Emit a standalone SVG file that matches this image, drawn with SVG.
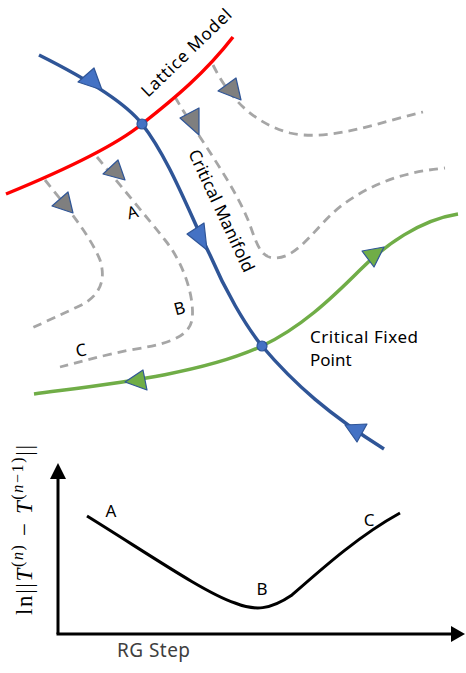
<svg xmlns="http://www.w3.org/2000/svg" width="466" height="673" viewBox="0 0 466 673">
<style>
.txt{font-family:"Noto Sans","Liberation Sans",sans-serif;fill:#000}
.dash{fill:none;stroke:#A6A6A6;stroke-width:2.8;stroke-dasharray:9 6}
.blue{fill:none;stroke:#2F5597;stroke-width:3.5}
.red{fill:none;stroke:#FF0000;stroke-width:3.5}
.green{fill:none;stroke:#70AD47;stroke-width:3.5}
.ab{fill:#4472C4;stroke:#2F5597;stroke-width:1.2;stroke-linejoin:round}
.ag{fill:#70AD47;stroke:#2F5597;stroke-width:1.2;stroke-linejoin:round}
.ay{fill:#7F7F7F;stroke:#2F5597;stroke-width:1.2;stroke-linejoin:round}
.dot{fill:#4472C4;stroke:#2F5597;stroke-width:1.2}
.ax{fill:none;stroke:#000;stroke-width:3}
</style>
<rect width="466" height="673" fill="#fff"/>
<g id="connectors">
  <g id="flow-lines">
    <path class="dash" d="M213,65 C228,95 250,122 290,133 C330,142 380,122 423,112"/>
    <path class="dash" d="M175,97 C200,140 235,185 250,225 C258,248 262,258 275,258 C300,258 318,222 345,203 C375,182 405,172 445,168"/>
    <path class="dash" d="M97,157 C120,185 145,215 165,240 C185,265 195,300 192,320 C188,340 160,345 130,350 C100,356 80,362 60,367"/>
    <path class="dash" d="M45,180 C65,205 90,235 100,260 C108,285 95,300 75,308 C60,315 45,322 32,328"/>
    <polygon class="ay" points="218,91 236,78 241,100"/>
    <polygon class="ay" points="180,118 199,108 199,135"/>
    <polygon class="ay" points="103,174 118,160 125,180"/>
    <polygon class="ay" points="52,206 68,192 73,213"/>
  </g>
  <path id="lattice-line" class="red" d="M6,194 C50,176 110,150 142,124 C175,98 205,73 233,37"/>
  <path id="relevant-line" class="green" d="M34,394 C100,385 200,375 262,346 C300,328 330,300 360,270 C385,245 420,220 458,214"/>
  <path id="manifold-line" class="blue" d="M39,55 C85,78 125,102 142,124 C170,160 190,215 210,255 C225,290 245,325 262,346 C295,385 330,415 384,449"/>
  <polygon class="ab" points="78,82 94,68 102,90"/>
  <polygon class="ab" points="187,234 204,223 207,250"/>
  <polygon class="ab" points="345,425 367,424 357,442"/>
  <polygon class="ag" points="125,382 143,370 147,390"/>
  <polygon class="ag" points="384,247 362,251 374,267"/>
</g>
<g id="lattice-model">
  <text class="txt" font-size="17" textLength="118" transform="translate(148,98) rotate(-44)">Lattice Model</text>
</g>
<g id="critical-manifold">
  <text class="txt" font-size="17" textLength="133" transform="translate(188,153) rotate(65)">Critical Manifold</text>
</g>
<g id="lattice-point">
  <circle class="dot" cx="142" cy="124" r="5"/>
</g>
<g id="critical-fixed-point">
  <circle class="dot" cx="262" cy="346" r="5"/>
  <text class="txt" font-size="17" x="310" y="343" textLength="108">Critical Fixed</text>
  <text class="txt" font-size="17" x="310" y="366">Point</text>
</g>
<g id="flow-labels">
  <text class="txt" font-size="17" text-anchor="middle" transform="translate(134,218) rotate(-15)">A</text>
  <text class="txt" font-size="17" text-anchor="middle" transform="translate(181,314) rotate(-15)">B</text>
  <text class="txt" font-size="17" text-anchor="middle" transform="translate(82,356) rotate(-10)">C</text>
</g>
<g id="chart">
  <line class="ax" x1="58" y1="634" x2="58" y2="477"/>
  <polygon points="58,463 50,479 66,479" fill="#000"/>
  <line class="ax" x1="56.5" y1="634" x2="453" y2="634"/>
  <polygon points="465,634 451,626 451,642" fill="#000"/>
  <path class="ax" d="M87,516 C150,555 205,593 235,603 C255,611 270,610 292,595 C325,566 360,535 400,513"/>
  <text class="txt" font-size="17" x="111" y="517" text-anchor="middle">A</text>
  <text class="txt" font-size="17" x="262" y="595" text-anchor="middle">B</text>
  <text class="txt" font-size="17" x="369" y="526" text-anchor="middle">C</text>
  <text class="txt" font-size="19" x="117" y="657" textLength="73" style="fill:#404040">RG Step</text>
  <text font-family="Liberation Serif,serif" font-size="23" transform="translate(32,615) rotate(-90)" textLength="170">ln||<tspan font-style="italic">T</tspan><tspan font-size="16" dy="-9">(<tspan font-style="italic">n</tspan>)</tspan><tspan dy="9"> − </tspan><tspan font-style="italic">T</tspan><tspan font-size="16" dy="-9">(<tspan font-style="italic">n</tspan>−1)</tspan><tspan dy="9">||</tspan></text>
</g>
</svg>
